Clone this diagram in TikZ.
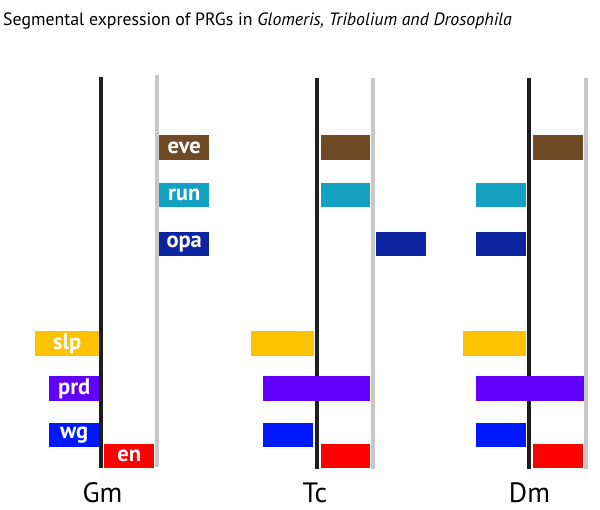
\documentclass[tikz,border=0pt]{standalone}
\usepackage{fontspec}
\setmainfont{PT Sans}
\usetikzlibrary{backgrounds}
\definecolor{evecol}{HTML}{6E4A25}
\definecolor{runcol}{HTML}{14A0C0}
\definecolor{opacol}{HTML}{0D24A0}
\definecolor{slpcol}{HTML}{FDC300}
\definecolor{prdcol}{HTML}{6200FF}
\definecolor{wgcol}{HTML}{0018FF}
\definecolor{encol}{HTML}{FF0000}
\definecolor{segline}{HTML}{1E1E1E}
\definecolor{parline}{HTML}{C8C8C8}
\begin{document}
\begin{tikzpicture}[x=1pt,y=-1pt]
\tikzstyle{bar}=[anchor=north west,inner sep=0pt,minimum height=24.5pt,text=white,font=\fontsize{22.5}{22.5}\selectfont\bfseries]
\tikzstyle{species}=[anchor=base,inner sep=0pt,font=\fontsize{28}{28}\selectfont]
\tikzstyle{blackline}=[segline,line width=4pt]
\tikzstyle{grayline}=[parline,line width=4pt]
\useasboundingbox (0,0) rectangle (600,510);
\node[anchor=base west,inner sep=0pt,font=\fontsize{17.8}{17.8}\selectfont] (title) at (3,25.5)
  {Segmental expression of PRGs in \textit{Glomeris, Tribolium and Drosophila}};
\draw[blackline] (101,77) -- (101,468);
\draw[grayline] (157,75) -- (157,467);
\draw[blackline] (317,78) -- (317,469);
\draw[grayline] (373,78) -- (373,469);
\draw[blackline] (528.5,78) -- (528.5,469);
\draw[grayline] (586,78) -- (586,469);
\node[bar,fill=evecol,minimum width=50pt] (gm-eve) at (159,135) {eve};
\node[bar,fill=runcol,minimum width=50pt] (gm-run) at (159,182.5) {run};
\node[bar,fill=opacol,minimum width=50pt] (gm-opa) at (159,231.5) {opa};
\node[bar,fill=slpcol,minimum width=64pt] (gm-slp) at (35,331) {slp};
\node[bar,fill=prdcol,minimum width=50pt] (gm-prd) at (49,376) {prd};
\node[bar,fill=wgcol,minimum width=50pt] (gm-wg) at (49,422.5) {wg};
\node[bar,fill=encol,minimum width=50pt] (gm-en) at (104,443.5) {en};
\node[bar,fill=evecol,minimum width=49pt] (tc-eve) at (321,135) {};
\node[bar,fill=runcol,minimum width=49pt] (tc-run) at (321,182.5) {};
\node[bar,fill=opacol,minimum width=50pt] (tc-opa) at (376,231.5) {};
\node[bar,fill=slpcol,minimum width=63pt] (tc-slp) at (251,331) {};
\node[bar,fill=prdcol,minimum width=107pt] (tc-prd) at (263,376) {};
\node[bar,fill=wgcol,minimum width=50pt] (tc-wg) at (263,422.5) {};
\node[bar,fill=encol,minimum width=49pt] (tc-en) at (321,443.5) {};
\node[bar,fill=evecol,minimum width=50pt] (dm-eve) at (532.5,135) {};
\node[bar,fill=runcol,minimum width=50pt] (dm-run) at (476,182.5) {};
\node[bar,fill=opacol,minimum width=50pt] (dm-opa) at (476,231.5) {};
\node[bar,fill=slpcol,minimum width=63.5pt] (dm-slp) at (462.5,331) {};
\node[bar,fill=prdcol,minimum width=107.5pt] (dm-prd) at (476,376) {};
\node[bar,fill=wgcol,minimum width=50pt] (dm-wg) at (476,422.5) {};
\node[bar,fill=encol,minimum width=50pt] (dm-en) at (532.5,443.5) {};
\node[species] (gm) at (102.5,503) {Gm};
\node[species] (tc) at (315,503) {Tc};
\node[species] (dm) at (529.5,503) {Dm};
\end{tikzpicture}
\end{document}
